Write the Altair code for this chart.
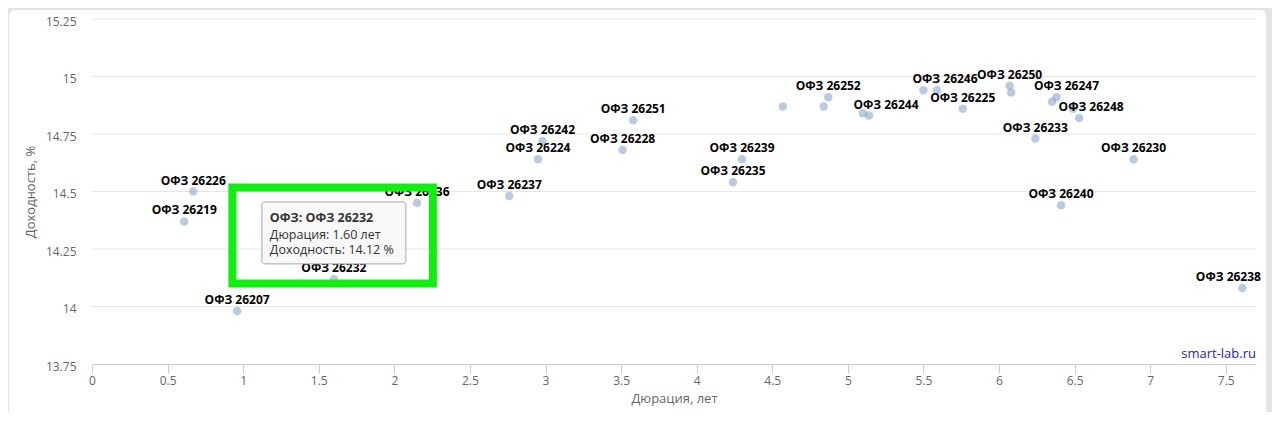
import altair as alt
import pandas as pd

# ---- data ----
BONDS = ["ОФЗ 26226", "ОФЗ 26219", "ОФЗ 26207", "ОФЗ 26232", "ОФЗ 26236",
         "ОФЗ 26237", "ОФЗ 26224", "ОФЗ 26242", "ОФЗ 26228", "ОФЗ 26251",
         "ОФЗ 26239", "ОФЗ 26235", "", "ОФЗ 26252", "",
         "", "ОФЗ 26244", "", "ОФЗ 26246", "ОФЗ 26225",
         "ОФЗ 26250", "", "ОФЗ 26247", "", "",
         "ОФЗ 26248", "ОФЗ 26233", "ОФЗ 26230", "ОФЗ 26240", "ОФЗ 26238"]
DURATION = [0.67, 0.61, 0.96, 1.60, 2.15,
            2.76, 2.95, 2.98, 3.51, 3.58,
            4.30, 4.24, 4.57, 4.87, 4.84,
            5.10, 5.14, 5.50, 5.59, 5.76,
            6.07, 6.08, 6.38, 6.35, 6.49,
            6.53, 6.24, 6.89, 6.41, 7.61]
YIELD = [14.50, 14.37, 13.98, 14.12, 14.45,
         14.48, 14.64, 14.72, 14.68, 14.81,
         14.64, 14.54, 14.87, 14.91, 14.87,
         14.84, 14.83, 14.94, 14.94, 14.86,
         14.96, 14.93, 14.91, 14.89, 14.86,
         14.82, 14.73, 14.64, 14.44, 14.08]
X_TICKS = [0, 0.5, 1, 1.5, 2, 2.5, 3, 3.5, 4, 4.5, 5, 5.5, 6, 6.5, 7, 7.5]
Y_TICKS = [13.75, 14, 14.25, 14.5, 14.75, 15, 15.25]
HIGHLIGHT = "ОФЗ 26232"
CREDIT = ["smart-lab.ru"]

# ---- layout / style ----
W, H = 1164, 345
FONT = "Open Sans"
LABEL_DX = {"ОФЗ 26244": 17, "ОФЗ 26246": 8, "ОФЗ 26247": 10,
            "ОФЗ 26248": 12, "ОФЗ 26238": -14}

df = pd.DataFrame({"bond": BONDS, "dur": DURATION, "yld": YIELD})
xs = alt.Scale(domain=[0, 7.7], nice=False, zero=False)
ys = alt.Scale(domain=[13.75, 15.25], nice=False, zero=False)

x_axis = alt.Axis(values=X_TICKS, format=".1~f", title="Дюрация, лет", grid=False,
                  domainColor="#cccccc", domainWidth=1, tickColor="#cccccc", tickSize=9,
                  labelPadding=2, labelColor="#666666", titleColor="#666666",
                  labelFont=FONT, titleFont=FONT, labelFontSize=12, titleFontSize=13,
                  titleFontWeight="normal", titlePadding=6, labelFlush=False,
                  labelOverlap=False, zindex=1)
y_axis = alt.Axis(values=Y_TICKS, format=".2~f", title="Доходность, %", grid=False,
                  domain=False, ticks=False, tickSize=0, labelPadding=16,
                  labelColor="#666666", titleColor="#666666", labelFont=FONT,
                  titleFont=FONT, labelFontSize=12, titleFontSize=13,
                  titleFontWeight="normal", titlePadding=8, labelFlush=False,
                  labelOverlap=False, labelOffset=2, zindex=1)

X = lambda f="dur:Q": alt.X(f, scale=xs, axis=x_axis)
Y = lambda f="yld:Q": alt.Y(f, scale=ys, axis=y_axis)

card = alt.Chart(pd.DataFrame({"k": [0]})).mark_rect(fill="white", cornerRadius=6).encode(
    x=alt.value(-83), x2=alt.value(1174), y=alt.value(-9), y2=alt.value(400))

grid = alt.Chart(pd.DataFrame({"v": Y_TICKS[1:]})).mark_rule(
    color="#e6e6e6", strokeWidth=1).encode(
    y=Y("v:Q"), x=alt.value(0), x2=alt.value(W))

points = alt.Chart(df).mark_circle(size=72, color="#7798BF", opacity=0.5).encode(
    x=X(), y=Y())

def in_list(names):
    return "indexof([" + ",".join("'" + n + "'" for n in names) + "], datum.bond) >= 0"

label_layers = []
shifted = list(LABEL_DX.keys())
base_lab = alt.Chart(df).transform_filter(
    "datum.bond != '' && !(" + in_list(shifted) + ")")
label_layers.append(base_lab.mark_text(font=FONT, fontWeight="bold", fontSize=12,
                                       color="#000000", baseline="middle", dy=-11).encode(
    x=X(), y=Y(), text="bond:N"))
for dx in sorted(set(LABEL_DX.values())):
    names = [k for k, v in LABEL_DX.items() if v == dx]
    label_layers.append(alt.Chart(df).transform_filter(in_list(names)).mark_text(
        font=FONT, fontWeight="bold", fontSize=12, color="#000000",
        baseline="middle", dy=-11, dx=dx).encode(x=X(), y=Y(), text="bond:N"))

credit = alt.Chart(pd.DataFrame({"t": CREDIT})).mark_text(
    align="right", baseline="middle", font=FONT, fontSize=13, color="#1f1f9e").encode(
    text="t:N", x=alt.value(W), y=alt.value(335))

hl = alt.Chart(df).transform_filter("datum.bond == '" + HIGHLIGHT + "'")

box = hl.mark_rect(fill="#f7f7f7", fillOpacity=0.92, stroke="#a8a8a8", strokeWidth=1,
                   cornerRadius=3, xOffset=-72, x2Offset=72, yOffset=-77, y2Offset=-15).encode(
    x=X(), x2="dur:Q", y=Y(), y2="yld:Q")

tt = hl.transform_calculate(
    l1="'ОФЗ: ' + datum.bond",
    l2="'Дюрация: ' + format(datum.dur, '.2f') + ' лет'",
    l3="'Доходность: ' + format(datum.yld, '.2f') + ' %'")
tt1 = tt.mark_text(align="left", baseline="middle", font=FONT, fontSize=12.5,
                   fontWeight="bold", color="#333333", dx=-64, dy=-61).encode(
    text="l1:N", x=X(), y=Y())
tt2 = tt.mark_text(align="left", baseline="middle", font=FONT, fontSize=12.5,
                   color="#333333", dx=-64, dy=-44).encode(text="l2:N", x=X(), y=Y())
tt3 = tt.mark_text(align="left", baseline="middle", font=FONT, fontSize=12.5,
                   color="#333333", dx=-64, dy=-29).encode(text="l3:N", x=X(), y=Y())

green = hl.mark_rect(filled=False, stroke="#12ee12", strokeWidth=8,
                     xOffset=-101.5, x2Offset=99, yOffset=-91.5, y2Offset=4.5).encode(
    x=X(), x2="dur:Q", y=Y(), y2="yld:Q")

chart = alt.layer(card, grid, points, *label_layers, credit, box, tt1, tt2, tt3, green).properties(
    width=W, height=H,
    padding={"left": 84, "top": 11, "right": 16, "bottom": 48},
    autosize=alt.AutoSizeParams(type="none"),
    background="#e4e4e4",
).configure_view(strokeWidth=0)

chart.save("out.html", embed_options={"renderer": "svg", "actions": False})
